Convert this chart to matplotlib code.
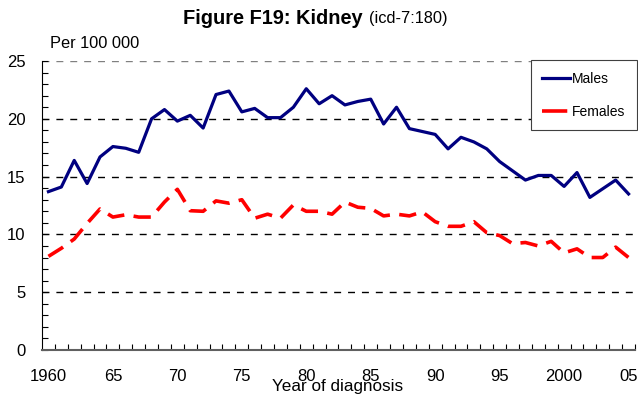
import numpy as np
import matplotlib
matplotlib.use("Agg")
import matplotlib.pyplot as plt
from matplotlib.ticker import MultipleLocator, FixedLocator
from matplotlib.lines import Line2D

plt.rcParams["font.family"] = ["Liberation Sans", "DejaVu Sans"]

# ── Data ───────────────────────────────────────────────────────────────────
years = list(range(1960, 2006))
males = [13.7, 14.1, 16.4, 14.4, 16.7, 17.6, 17.45, 17.1, 20.0, 20.8,
         19.8, 20.3, 19.2, 22.1, 22.4, 20.6, 20.9, 20.1, 20.1, 21.0,
         22.6, 21.3, 22.0, 21.2, 21.5, 21.7, 19.55, 21.0, 19.15, 18.9,
         18.65, 17.4, 18.4, 18.0, 17.4, 16.3, 15.5, 14.7, 15.1, 15.1,
         14.15, 15.35, 13.2, 13.95, 14.7, 13.5]
females = [8.1, 8.8, 9.6, 10.95, 12.2, 11.5, 11.7, 11.5, 11.5, 12.8,
           13.9, 12.05, 12.0, 12.9, 12.7, 13.0, 11.4, 11.75, 11.4, 12.55,
           12.0, 12.0, 11.75, 12.8, 12.35, 12.25, 11.6, 11.75, 11.6, 11.95,
           11.1, 10.7, 10.7, 11.1, 10.15, 9.9, 9.2, 9.3, 9.0, 9.4,
           8.4, 8.75, 8.0, 8.0, 8.9, 8.0]
x_ticks = [1960, 1965, 1970, 1975, 1980, 1985, 1990, 1995, 2000, 2005]
x_labels = ["1960", "65", "70", "75", "80", "85", "90", "95", "2000", "05"]

NAVY = "#000080"
RED = "#FF0000"

W, H = 638, 401
fig = plt.figure(figsize=(W / 100, H / 100), dpi=100)
ax = fig.add_axes([42 / W, (H - 350) / H, (635 - 42) / W, (350 - 61) / H])

# dashed gridlines
for v in [5, 10, 15, 20]:
    ax.axhline(v, color="black", lw=1.0, ls=(0, (5, 5)), zorder=1)
ax.axhline(25, color="#808080", lw=1.0, ls=(0, (5, 5)), zorder=1)

ax.plot(years, males, color=NAVY, lw=2.3, zorder=3)
ax.plot(years, females, color=RED, lw=2.6, ls=(0, (4.8, 2.6)), zorder=3)

ax.set_xlim(1959.5, 2005.5)
ax.set_ylim(0, 25)

ax.set_xticks(x_ticks)
ax.set_xticklabels(x_labels, fontsize=12)
ax.xaxis.set_minor_locator(FixedLocator(np.arange(1960.5, 2005.6, 1.0)))
ax.tick_params(axis="x", which="major", length=0, pad=14)
ax.tick_params(axis="x", which="minor", direction="in", length=4,
               width=0.8, color="black")

ax.yaxis.set_major_locator(MultipleLocator(5))
ax.yaxis.set_minor_locator(MultipleLocator(1))
ax.tick_params(axis="y", which="both", direction="in", length=4,
               width=0.8, labelsize=12, pad=12)

for s in ["top", "right"]:
    ax.spines[s].set_visible(False)
ax.spines["left"].set_color("black")
ax.spines["bottom"].set_color("#606060")
ax.spines["bottom"].set_linewidth(1.5)

handles = [Line2D([], [], color=NAVY, lw=2.3),
           Line2D([], [], color=RED, lw=2.6, ls=(0, (7, 9)))]
leg = ax.legend(handles, ["Males", "Females"], loc="upper right",
                bbox_to_anchor=(1.003, 1.003), borderaxespad=0,
                fontsize=10, frameon=True, fancybox=False,
                edgecolor="#404040", framealpha=1, borderpad=0.85,
                labelspacing=1.35, handlelength=2.0, handletextpad=0.1)
leg.get_frame().set_linewidth(0.8)

fig.text(50 / W, 1 - 44 / H, "Per 100 000", fontsize=11.8, ha="left", va="center")
fig.text(338 / W, 1 - 387 / H, "Year of diagnosis", fontsize=12.3,
         ha="center", va="center")
fig.text(363 / W, 1 - 18 / H, "Figure F19: Kidney", fontsize=14.4,
         fontweight="bold", ha="right", va="center")
fig.text(369 / W, 1 - 19 / H, "(icd-7:180)", fontsize=11.8,
         ha="left", va="center")

fig.savefig("out.png", dpi=100)
